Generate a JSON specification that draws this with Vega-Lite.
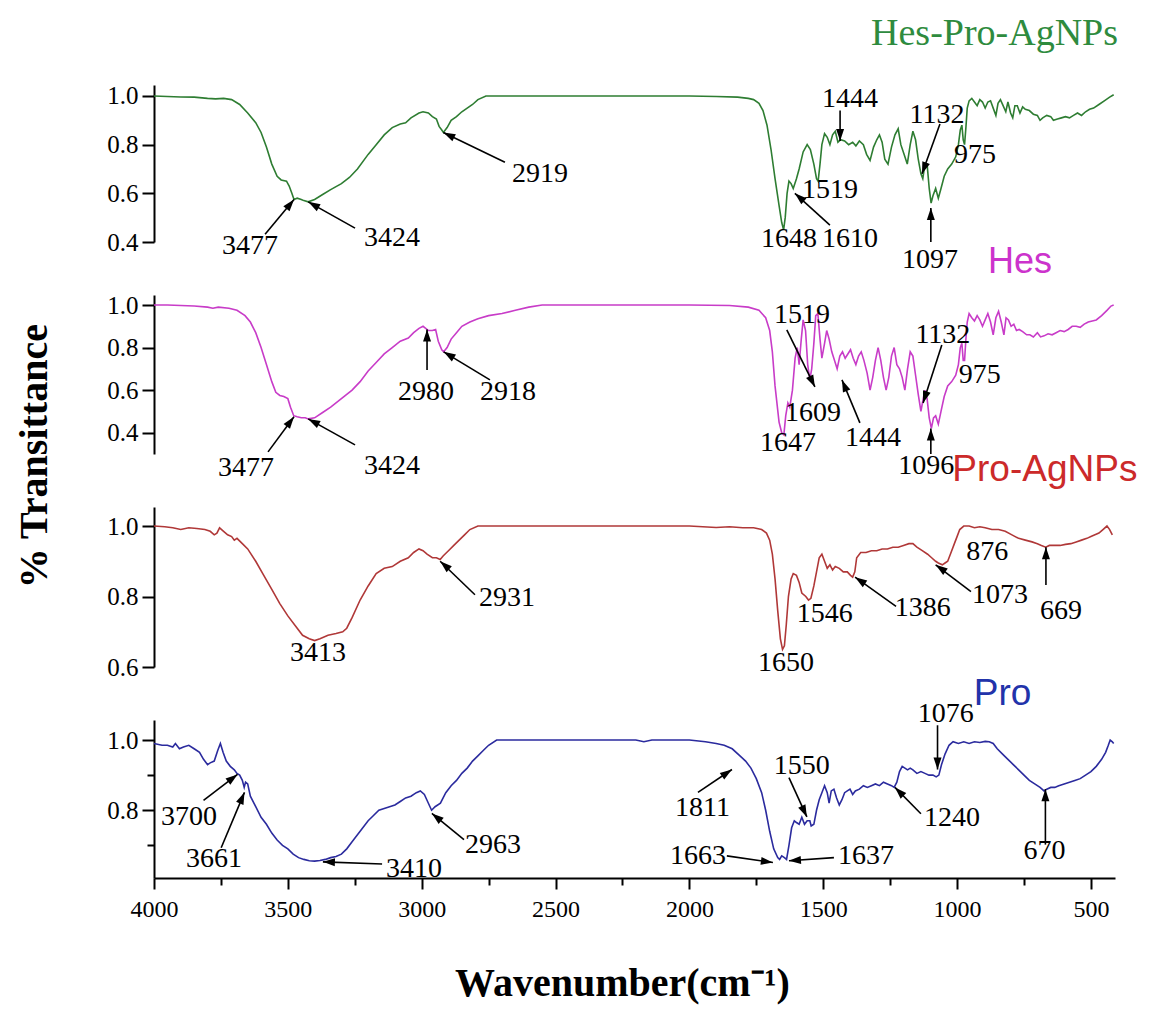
{
  "$schema": "https://vega.github.io/schema/vega-lite/v6.json",
  "padding": {"left": 15, "top": 14, "right": 5, "bottom": 5},
  "background": "white",
  "config": {
    "view": {"stroke": null},
    "axis": {"domainColor": "black", "domainWidth": 2, "tickColor": "black", "tickWidth": 2, "labelFont": "Liberation Serif", "labelColor": "black", "grid": false, "titleFont": "Liberation Serif", "titleColor": "black", "labelOverlap": false}
  },
  "datasets": {
    "s1": [
      {"w":4000,"t":1.0},{"w":3950,"t":0.998},{"w":3900,"t":0.996},{"w":3850,"t":0.995},{"w":3800,"t":0.99},{"w":3770,"t":0.988},{"w":3740,"t":0.99},{"w":3710,"t":0.985},{"w":3680,"t":0.965},{"w":3650,"t":0.93},{"w":3620,"t":0.89},{"w":3600,"t":0.85},{"w":3580,"t":0.79},{"w":3560,"t":0.72},{"w":3540,"t":0.67},{"w":3525,"t":0.655},{"w":3505,"t":0.65},{"w":3495,"t":0.63},{"w":3485,"t":0.6},{"w":3477,"t":0.575},{"w":3465,"t":0.58},{"w":3450,"t":0.575},{"w":3440,"t":0.57},{"w":3424,"t":0.565},{"w":3400,"t":0.575},{"w":3370,"t":0.595},{"w":3340,"t":0.615},{"w":3300,"t":0.64},{"w":3270,"t":0.665},{"w":3240,"t":0.7},{"w":3200,"t":0.76},{"w":3170,"t":0.8},{"w":3140,"t":0.84},{"w":3110,"t":0.87},{"w":3080,"t":0.885},{"w":3060,"t":0.89},{"w":3040,"t":0.91},{"w":3010,"t":0.93},{"w":2995,"t":0.935},{"w":2975,"t":0.93},{"w":2960,"t":0.915},{"w":2945,"t":0.905},{"w":2935,"t":0.875},{"w":2925,"t":0.86},{"w":2919,"t":0.85},{"w":2905,"t":0.87},{"w":2890,"t":0.9},{"w":2870,"t":0.915},{"w":2850,"t":0.935},{"w":2830,"t":0.95},{"w":2810,"t":0.965},{"w":2790,"t":0.985},{"w":2760,"t":1.0},{"w":2500,"t":1.0},{"w":2200,"t":1.0},{"w":2000,"t":1.0},{"w":1900,"t":0.998},{"w":1820,"t":0.995},{"w":1780,"t":0.99},{"w":1760,"t":0.985},{"w":1740,"t":0.97},{"w":1725,"t":0.94},{"w":1710,"t":0.88},{"w":1695,"t":0.78},{"w":1680,"t":0.66},{"w":1665,"t":0.55},{"w":1655,"t":0.48},{"w":1648,"t":0.45},{"w":1642,"t":0.5},{"w":1635,"t":0.6},{"w":1628,"t":0.65},{"w":1620,"t":0.64},{"w":1612,"t":0.62},{"w":1600,"t":0.66},{"w":1590,"t":0.7},{"w":1575,"t":0.77},{"w":1560,"t":0.8},{"w":1548,"t":0.78},{"w":1535,"t":0.72},{"w":1525,"t":0.66},{"w":1519,"t":0.65},{"w":1512,"t":0.72},{"w":1505,"t":0.8},{"w":1495,"t":0.845},{"w":1485,"t":0.83},{"w":1475,"t":0.8},{"w":1465,"t":0.84},{"w":1455,"t":0.855},{"w":1445,"t":0.81},{"w":1435,"t":0.82},{"w":1420,"t":0.815},{"w":1405,"t":0.8},{"w":1390,"t":0.81},{"w":1378,"t":0.795},{"w":1365,"t":0.815},{"w":1350,"t":0.8},{"w":1338,"t":0.76},{"w":1325,"t":0.735},{"w":1312,"t":0.79},{"w":1300,"t":0.82},{"w":1290,"t":0.84},{"w":1280,"t":0.81},{"w":1270,"t":0.74},{"w":1258,"t":0.72},{"w":1245,"t":0.79},{"w":1232,"t":0.84},{"w":1220,"t":0.865},{"w":1210,"t":0.8},{"w":1198,"t":0.76},{"w":1186,"t":0.72},{"w":1175,"t":0.8},{"w":1165,"t":0.855},{"w":1155,"t":0.82},{"w":1145,"t":0.74},{"w":1135,"t":0.68},{"w":1128,"t":0.66},{"w":1120,"t":0.72},{"w":1112,"t":0.72},{"w":1104,"t":0.62},{"w":1097,"t":0.56},{"w":1090,"t":0.59},{"w":1080,"t":0.62},{"w":1070,"t":0.58},{"w":1060,"t":0.62},{"w":1048,"t":0.67},{"w":1035,"t":0.7},{"w":1020,"t":0.72},{"w":1005,"t":0.75},{"w":995,"t":0.8},{"w":988,"t":0.86},{"w":982,"t":0.88},{"w":977,"t":0.82},{"w":972,"t":0.8},{"w":967,"t":0.87},{"w":962,"t":0.95},{"w":955,"t":0.98},{"w":945,"t":0.99},{"w":935,"t":0.975},{"w":925,"t":0.96},{"w":915,"t":0.985},{"w":905,"t":0.975},{"w":895,"t":0.95},{"w":885,"t":0.975},{"w":875,"t":0.98},{"w":865,"t":0.95},{"w":855,"t":0.92},{"w":847,"t":0.97},{"w":838,"t":0.985},{"w":828,"t":0.96},{"w":818,"t":0.935},{"w":810,"t":0.975},{"w":800,"t":0.93},{"w":792,"t":0.91},{"w":784,"t":0.96},{"w":775,"t":0.96},{"w":765,"t":0.93},{"w":755,"t":0.955},{"w":745,"t":0.945},{"w":730,"t":0.94},{"w":715,"t":0.925},{"w":700,"t":0.92},{"w":690,"t":0.9},{"w":680,"t":0.91},{"w":665,"t":0.92},{"w":650,"t":0.915},{"w":640,"t":0.9},{"w":625,"t":0.905},{"w":610,"t":0.91},{"w":595,"t":0.915},{"w":580,"t":0.91},{"w":565,"t":0.92},{"w":550,"t":0.93},{"w":535,"t":0.92},{"w":520,"t":0.935},{"w":505,"t":0.945},{"w":490,"t":0.95},{"w":470,"t":0.965},{"w":450,"t":0.98},{"w":430,"t":0.995},{"w":415,"t":1.005}
    ],
    "s2": [
      {"w":4000,"t":1.0},{"w":3950,"t":1.0},{"w":3900,"t":0.998},{"w":3850,"t":0.995},{"w":3800,"t":0.99},{"w":3780,"t":0.985},{"w":3760,"t":0.99},{"w":3720,"t":0.985},{"w":3690,"t":0.975},{"w":3660,"t":0.95},{"w":3640,"t":0.92},{"w":3620,"t":0.87},{"w":3600,"t":0.8},{"w":3580,"t":0.72},{"w":3560,"t":0.64},{"w":3545,"t":0.59},{"w":3530,"t":0.575},{"w":3515,"t":0.57},{"w":3500,"t":0.56},{"w":3490,"t":0.52},{"w":3478,"t":0.48},{"w":3465,"t":0.475},{"w":3450,"t":0.47},{"w":3435,"t":0.47},{"w":3424,"t":0.465},{"w":3400,"t":0.47},{"w":3370,"t":0.495},{"w":3340,"t":0.52},{"w":3300,"t":0.56},{"w":3260,"t":0.6},{"w":3230,"t":0.64},{"w":3200,"t":0.69},{"w":3170,"t":0.73},{"w":3140,"t":0.77},{"w":3110,"t":0.8},{"w":3080,"t":0.83},{"w":3050,"t":0.845},{"w":3030,"t":0.87},{"w":3010,"t":0.89},{"w":2995,"t":0.9},{"w":2985,"t":0.89},{"w":2975,"t":0.88},{"w":2960,"t":0.88},{"w":2948,"t":0.885},{"w":2938,"t":0.83},{"w":2925,"t":0.79},{"w":2918,"t":0.78},{"w":2905,"t":0.8},{"w":2890,"t":0.84},{"w":2870,"t":0.87},{"w":2850,"t":0.9},{"w":2820,"t":0.92},{"w":2790,"t":0.935},{"w":2750,"t":0.95},{"w":2700,"t":0.96},{"w":2650,"t":0.975},{"w":2600,"t":0.99},{"w":2550,"t":1.0},{"w":2000,"t":1.0},{"w":1850,"t":0.998},{"w":1780,"t":0.99},{"w":1740,"t":0.975},{"w":1715,"t":0.94},{"w":1700,"t":0.88},{"w":1690,"t":0.78},{"w":1680,"t":0.62},{"w":1665,"t":0.45},{"w":1655,"t":0.4},{"w":1647,"t":0.39},{"w":1640,"t":0.48},{"w":1632,"t":0.54},{"w":1625,"t":0.52},{"w":1615,"t":0.6},{"w":1605,"t":0.75},{"w":1597,"t":0.8},{"w":1590,"t":0.72},{"w":1582,"t":0.84},{"w":1575,"t":0.93},{"w":1566,"t":0.88},{"w":1558,"t":0.72},{"w":1550,"t":0.65},{"w":1543,"t":0.7},{"w":1535,"t":0.82},{"w":1528,"t":0.95},{"w":1520,"t":0.96},{"w":1512,"t":0.84},{"w":1505,"t":0.75},{"w":1495,"t":0.82},{"w":1487,"t":0.88},{"w":1478,"t":0.84},{"w":1468,"t":0.78},{"w":1458,"t":0.74},{"w":1448,"t":0.7},{"w":1438,"t":0.76},{"w":1428,"t":0.78},{"w":1418,"t":0.75},{"w":1408,"t":0.77},{"w":1398,"t":0.79},{"w":1388,"t":0.75},{"w":1378,"t":0.72},{"w":1368,"t":0.76},{"w":1358,"t":0.78},{"w":1348,"t":0.74},{"w":1336,"t":0.68},{"w":1325,"t":0.6},{"w":1315,"t":0.66},{"w":1305,"t":0.74},{"w":1295,"t":0.8},{"w":1285,"t":0.74},{"w":1275,"t":0.66},{"w":1265,"t":0.6},{"w":1255,"t":0.66},{"w":1245,"t":0.76},{"w":1235,"t":0.8},{"w":1225,"t":0.72},{"w":1215,"t":0.7},{"w":1205,"t":0.66},{"w":1195,"t":0.6},{"w":1185,"t":0.7},{"w":1175,"t":0.78},{"w":1165,"t":0.76},{"w":1155,"t":0.67},{"w":1145,"t":0.58},{"w":1135,"t":0.5},{"w":1128,"t":0.55},{"w":1120,"t":0.6},{"w":1112,"t":0.56},{"w":1104,"t":0.47},{"w":1096,"t":0.42},{"w":1088,"t":0.47},{"w":1080,"t":0.48},{"w":1070,"t":0.44},{"w":1060,"t":0.5},{"w":1048,"t":0.57},{"w":1035,"t":0.62},{"w":1020,"t":0.64},{"w":1005,"t":0.67},{"w":995,"t":0.72},{"w":988,"t":0.8},{"w":982,"t":0.82},{"w":977,"t":0.74},{"w":972,"t":0.74},{"w":967,"t":0.84},{"w":962,"t":0.92},{"w":955,"t":0.96},{"w":945,"t":0.94},{"w":935,"t":0.925},{"w":925,"t":0.95},{"w":915,"t":0.93},{"w":905,"t":0.9},{"w":895,"t":0.93},{"w":885,"t":0.96},{"w":875,"t":0.92},{"w":865,"t":0.86},{"w":855,"t":0.94},{"w":845,"t":0.97},{"w":835,"t":0.92},{"w":825,"t":0.86},{"w":817,"t":0.94},{"w":808,"t":0.93},{"w":798,"t":0.9},{"w":788,"t":0.91},{"w":778,"t":0.88},{"w":768,"t":0.885},{"w":755,"t":0.875},{"w":740,"t":0.86},{"w":728,"t":0.86},{"w":715,"t":0.85},{"w":700,"t":0.87},{"w":688,"t":0.85},{"w":675,"t":0.855},{"w":660,"t":0.865},{"w":645,"t":0.86},{"w":630,"t":0.87},{"w":615,"t":0.88},{"w":600,"t":0.875},{"w":585,"t":0.885},{"w":570,"t":0.9},{"w":555,"t":0.9},{"w":540,"t":0.895},{"w":525,"t":0.91},{"w":510,"t":0.92},{"w":495,"t":0.925},{"w":480,"t":0.93},{"w":460,"t":0.95},{"w":440,"t":0.975},{"w":425,"t":0.995},{"w":415,"t":1.0}
    ],
    "s3": [
      {"w":4000,"t":1.0},{"w":3960,"t":0.998},{"w":3930,"t":0.995},{"w":3900,"t":0.99},{"w":3870,"t":0.995},{"w":3840,"t":0.993},{"w":3810,"t":0.99},{"w":3790,"t":0.985},{"w":3775,"t":0.975},{"w":3765,"t":0.98},{"w":3755,"t":0.995},{"w":3740,"t":0.985},{"w":3725,"t":0.975},{"w":3710,"t":0.97},{"w":3700,"t":0.96},{"w":3690,"t":0.965},{"w":3670,"t":0.95},{"w":3650,"t":0.935},{"w":3620,"t":0.9},{"w":3590,"t":0.86},{"w":3560,"t":0.82},{"w":3530,"t":0.78},{"w":3500,"t":0.745},{"w":3470,"t":0.715},{"w":3445,"t":0.69},{"w":3420,"t":0.68},{"w":3400,"t":0.675},{"w":3380,"t":0.68},{"w":3350,"t":0.69},{"w":3320,"t":0.695},{"w":3295,"t":0.7},{"w":3280,"t":0.71},{"w":3260,"t":0.74},{"w":3230,"t":0.79},{"w":3200,"t":0.83},{"w":3170,"t":0.865},{"w":3140,"t":0.88},{"w":3110,"t":0.885},{"w":3080,"t":0.9},{"w":3050,"t":0.91},{"w":3030,"t":0.925},{"w":3010,"t":0.935},{"w":2995,"t":0.93},{"w":2980,"t":0.92},{"w":2960,"t":0.91},{"w":2945,"t":0.91},{"w":2931,"t":0.905},{"w":2920,"t":0.915},{"w":2900,"t":0.93},{"w":2880,"t":0.945},{"w":2860,"t":0.96},{"w":2840,"t":0.975},{"w":2820,"t":0.99},{"w":2790,"t":1.0},{"w":2000,"t":1.0},{"w":1950,"t":0.998},{"w":1900,"t":0.996},{"w":1850,"t":0.998},{"w":1800,"t":0.995},{"w":1760,"t":0.995},{"w":1730,"t":0.99},{"w":1712,"t":0.98},{"w":1700,"t":0.96},{"w":1690,"t":0.92},{"w":1680,"t":0.85},{"w":1670,"t":0.76},{"w":1660,"t":0.68},{"w":1652,"t":0.65},{"w":1645,"t":0.66},{"w":1638,"t":0.72},{"w":1630,"t":0.8},{"w":1620,"t":0.85},{"w":1612,"t":0.865},{"w":1600,"t":0.86},{"w":1590,"t":0.84},{"w":1580,"t":0.81},{"w":1565,"t":0.8},{"w":1555,"t":0.79},{"w":1546,"t":0.795},{"w":1535,"t":0.83},{"w":1525,"t":0.87},{"w":1515,"t":0.91},{"w":1505,"t":0.92},{"w":1495,"t":0.9},{"w":1485,"t":0.88},{"w":1475,"t":0.89},{"w":1465,"t":0.875},{"w":1455,"t":0.885},{"w":1440,"t":0.88},{"w":1425,"t":0.87},{"w":1410,"t":0.87},{"w":1398,"t":0.86},{"w":1390,"t":0.855},{"w":1382,"t":0.87},{"w":1375,"t":0.91},{"w":1360,"t":0.925},{"w":1340,"t":0.925},{"w":1320,"t":0.93},{"w":1300,"t":0.93},{"w":1280,"t":0.935},{"w":1260,"t":0.935},{"w":1240,"t":0.94},{"w":1220,"t":0.94},{"w":1200,"t":0.945},{"w":1180,"t":0.95},{"w":1165,"t":0.95},{"w":1150,"t":0.94},{"w":1130,"t":0.93},{"w":1110,"t":0.92},{"w":1095,"t":0.91},{"w":1080,"t":0.9},{"w":1070,"t":0.895},{"w":1055,"t":0.89},{"w":1045,"t":0.895},{"w":1035,"t":0.9},{"w":1025,"t":0.92},{"w":1010,"t":0.95},{"w":1000,"t":0.97},{"w":990,"t":0.99},{"w":975,"t":1.0},{"w":955,"t":1.0},{"w":935,"t":0.995},{"w":915,"t":0.998},{"w":895,"t":0.995},{"w":870,"t":0.99},{"w":845,"t":0.99},{"w":820,"t":0.985},{"w":795,"t":0.975},{"w":770,"t":0.965},{"w":745,"t":0.96},{"w":720,"t":0.955},{"w":700,"t":0.95},{"w":685,"t":0.945},{"w":669,"t":0.94},{"w":655,"t":0.945},{"w":635,"t":0.945},{"w":615,"t":0.945},{"w":595,"t":0.948},{"w":575,"t":0.95},{"w":555,"t":0.955},{"w":535,"t":0.96},{"w":515,"t":0.965},{"w":500,"t":0.97},{"w":485,"t":0.975},{"w":470,"t":0.98},{"w":455,"t":0.99},{"w":440,"t":1.0},{"w":430,"t":0.99},{"w":420,"t":0.975}
    ],
    "s4": [
      {"w":4000,"t":0.99},{"w":3970,"t":0.985},{"w":3950,"t":0.985},{"w":3930,"t":0.98},{"w":3920,"t":0.99},{"w":3905,"t":0.975},{"w":3890,"t":0.98},{"w":3870,"t":0.985},{"w":3850,"t":0.975},{"w":3830,"t":0.965},{"w":3815,"t":0.945},{"w":3800,"t":0.93},{"w":3790,"t":0.935},{"w":3775,"t":0.94},{"w":3762,"t":0.97},{"w":3752,"t":0.99},{"w":3742,"t":0.965},{"w":3730,"t":0.94},{"w":3715,"t":0.925},{"w":3700,"t":0.915},{"w":3690,"t":0.905},{"w":3680,"t":0.9},{"w":3670,"t":0.885},{"w":3663,"t":0.865},{"w":3658,"t":0.88},{"w":3650,"t":0.875},{"w":3640,"t":0.84},{"w":3620,"t":0.81},{"w":3600,"t":0.78},{"w":3580,"t":0.76},{"w":3560,"t":0.735},{"w":3540,"t":0.715},{"w":3520,"t":0.7},{"w":3500,"t":0.69},{"w":3480,"t":0.675},{"w":3460,"t":0.665},{"w":3440,"t":0.66},{"w":3420,"t":0.656},{"w":3400,"t":0.655},{"w":3380,"t":0.657},{"w":3360,"t":0.66},{"w":3340,"t":0.665},{"w":3320,"t":0.668},{"w":3300,"t":0.675},{"w":3280,"t":0.69},{"w":3260,"t":0.71},{"w":3240,"t":0.73},{"w":3220,"t":0.75},{"w":3200,"t":0.77},{"w":3180,"t":0.785},{"w":3160,"t":0.8},{"w":3140,"t":0.805},{"w":3120,"t":0.81},{"w":3100,"t":0.815},{"w":3080,"t":0.825},{"w":3060,"t":0.835},{"w":3040,"t":0.84},{"w":3020,"t":0.85},{"w":3005,"t":0.855},{"w":2990,"t":0.845},{"w":2975,"t":0.82},{"w":2963,"t":0.8},{"w":2950,"t":0.81},{"w":2930,"t":0.82},{"w":2910,"t":0.85},{"w":2890,"t":0.87},{"w":2870,"t":0.885},{"w":2850,"t":0.905},{"w":2830,"t":0.92},{"w":2810,"t":0.94},{"w":2790,"t":0.955},{"w":2770,"t":0.97},{"w":2750,"t":0.985},{"w":2720,"t":1.0},{"w":2200,"t":1.0},{"w":2170,"t":0.995},{"w":2140,"t":1.0},{"w":2000,"t":1.0},{"w":1940,"t":0.995},{"w":1900,"t":0.99},{"w":1870,"t":0.985},{"w":1840,"t":0.975},{"w":1811,"t":0.955},{"w":1790,"t":0.94},{"w":1770,"t":0.92},{"w":1750,"t":0.89},{"w":1730,"t":0.85},{"w":1715,"t":0.8},{"w":1700,"t":0.74},{"w":1685,"t":0.69},{"w":1670,"t":0.665},{"w":1663,"t":0.66},{"w":1655,"t":0.67},{"w":1645,"t":0.665},{"w":1637,"t":0.66},{"w":1628,"t":0.7},{"w":1618,"t":0.75},{"w":1608,"t":0.77},{"w":1600,"t":0.765},{"w":1590,"t":0.76},{"w":1580,"t":0.78},{"w":1570,"t":0.76},{"w":1560,"t":0.77},{"w":1550,"t":0.77},{"w":1545,"t":0.755},{"w":1535,"t":0.76},{"w":1525,"t":0.8},{"w":1515,"t":0.83},{"w":1505,"t":0.85},{"w":1495,"t":0.87},{"w":1485,"t":0.85},{"w":1478,"t":0.82},{"w":1470,"t":0.855},{"w":1460,"t":0.86},{"w":1450,"t":0.835},{"w":1440,"t":0.815},{"w":1430,"t":0.83},{"w":1420,"t":0.85},{"w":1410,"t":0.855},{"w":1400,"t":0.86},{"w":1390,"t":0.845},{"w":1380,"t":0.855},{"w":1365,"t":0.86},{"w":1350,"t":0.87},{"w":1335,"t":0.865},{"w":1320,"t":0.87},{"w":1305,"t":0.875},{"w":1290,"t":0.87},{"w":1275,"t":0.88},{"w":1260,"t":0.875},{"w":1245,"t":0.87},{"w":1235,"t":0.865},{"w":1225,"t":0.88},{"w":1215,"t":0.91},{"w":1205,"t":0.925},{"w":1195,"t":0.92},{"w":1185,"t":0.915},{"w":1175,"t":0.92},{"w":1165,"t":0.915},{"w":1150,"t":0.905},{"w":1135,"t":0.91},{"w":1120,"t":0.905},{"w":1105,"t":0.9},{"w":1090,"t":0.9},{"w":1078,"t":0.895},{"w":1068,"t":0.9},{"w":1058,"t":0.93},{"w":1045,"t":0.96},{"w":1030,"t":0.985},{"w":1015,"t":0.995},{"w":995,"t":0.99},{"w":975,"t":0.995},{"w":955,"t":0.99},{"w":935,"t":0.995},{"w":915,"t":0.993},{"w":895,"t":0.996},{"w":880,"t":0.995},{"w":865,"t":0.99},{"w":850,"t":0.975},{"w":830,"t":0.96},{"w":810,"t":0.945},{"w":790,"t":0.93},{"w":770,"t":0.915},{"w":750,"t":0.9},{"w":730,"t":0.885},{"w":710,"t":0.875},{"w":690,"t":0.865},{"w":675,"t":0.855},{"w":665,"t":0.86},{"w":650,"t":0.865},{"w":635,"t":0.865},{"w":620,"t":0.87},{"w":600,"t":0.875},{"w":580,"t":0.88},{"w":560,"t":0.885},{"w":540,"t":0.89},{"w":520,"t":0.9},{"w":500,"t":0.91},{"w":480,"t":0.925},{"w":460,"t":0.945},{"w":445,"t":0.965},{"w":435,"t":0.985},{"w":428,"t":1.0},{"w":420,"t":0.995},{"w":415,"t":0.99}
    ],
    "ann": [
      {"p":1,"label":"3477","lx":3641,"ly":0.383,"tx":3477,"ty":0.575,"fx":3585,"fy":0.432,"ang":39},
      {"p":1,"label":"3424","lx":3111,"ly":0.416,"tx":3424,"ty":0.565,"fx":3249,"fy":0.457,"ang":299},
      {"p":1,"label":"2919","lx":2558,"ly":0.679,"tx":2919,"ty":0.85,"fx":2689,"fy":0.728,"ang":296},
      {"p":1,"label":"1444","lx":1400,"ly":0.988,"tx":1437,"ty":0.815,"fx":1437,"fy":0.94,"ang":180},
      {"p":1,"label":"1132","lx":1075,"ly":0.922,"tx":1131,"ty":0.68,"fx":1064,"fy":0.885,"ang":200},
      {"p":1,"label":"975","lx":933,"ly":0.757},
      {"p":1,"label":"1519","lx":1475,"ly":0.613},
      {"p":1,"label":"1610","lx":1400,"ly":0.412,"tx":1606,"ty":0.6,"fx":1475,"fy":0.469,"ang":311},
      {"p":1,"label":"1648","lx":1628,"ly":0.412},
      {"p":1,"label":"1097","lx":1101,"ly":0.325,"tx":1098,"ty":0.54,"fx":1098,"fy":0.4,"ang":0},
      {"p":2,"label":"3477","lx":3656,"ly":0.235,"tx":3477,"ty":0.475,"fx":3574,"fy":0.31,"ang":37},
      {"p":2,"label":"3424","lx":3111,"ly":0.244,"tx":3424,"ty":0.465,"fx":3249,"fy":0.343,"ang":298},
      {"p":2,"label":"2980","lx":2984,"ly":0.592,"tx":2980,"ty":0.885,"fx":2980,"fy":0.695,"ang":0},
      {"p":2,"label":"2918","lx":2678,"ly":0.592,"tx":2918,"ty":0.78,"fx":2745,"fy":0.648,"ang":301},
      {"p":2,"label":"1519","lx":1579,"ly":0.953,"tx":1531,"ty":0.615,"fx":1636,"fy":0.883,"ang":154},
      {"p":2,"label":"1609","lx":1538,"ly":0.493},
      {"p":2,"label":"1444","lx":1314,"ly":0.376,"tx":1430,"ty":0.648,"fx":1363,"fy":0.446,"ang":337},
      {"p":2,"label":"1647","lx":1632,"ly":0.352},
      {"p":2,"label":"1132","lx":1053,"ly":0.859,"tx":1127,"ty":0.54,"fx":1057,"fy":0.812,"ang":198},
      {"p":2,"label":"975","lx":915,"ly":0.671},
      {"p":2,"label":"1096","lx":1115,"ly":0.244,"tx":1098,"ty":0.42,"fx":1098,"fy":0.3,"ang":0},
      {"p":3,"label":"3413","lx":3387,"ly":0.64},
      {"p":3,"label":"2931","lx":2681,"ly":0.795,"tx":2931,"ty":0.9,"fx":2801,"fy":0.805,"ang":311},
      {"p":3,"label":"1650","lx":1639,"ly":0.61},
      {"p":3,"label":"1546","lx":1494,"ly":0.749},
      {"p":3,"label":"1386","lx":1128,"ly":0.767,"tx":1381,"ty":0.855,"fx":1228,"fy":0.772,"ang":304},
      {"p":3,"label":"1073","lx":840,"ly":0.805,"tx":1080,"ty":0.89,"fx":948,"fy":0.814,"ang":305},
      {"p":3,"label":"876","lx":887,"ly":0.926},
      {"p":3,"label":"669","lx":612,"ly":0.758,"tx":668,"ty":0.94,"fx":668,"fy":0.833,"ang":0},
      {"p":4,"label":"3700","lx":3869,"ly":0.781,"tx":3688,"ty":0.902,"fx":3815,"fy":0.828,"ang":53},
      {"p":4,"label":"3661","lx":3776,"ly":0.66,"tx":3662,"ty":0.851,"fx":3749,"fy":0.693,"ang":23},
      {"p":4,"label":"3410","lx":3029,"ly":0.633,"tx":3369,"ty":0.653,"fx":3148,"fy":0.647,"ang":272},
      {"p":4,"label":"2963","lx":2734,"ly":0.702,"tx":2962,"ty":0.791,"fx":2842,"fy":0.716,"ang":309},
      {"p":4,"label":"1811","lx":1951,"ly":0.805,"tx":1841,"ty":0.916,"fx":1968,"fy":0.851,"ang":56},
      {"p":4,"label":"1550","lx":1580,"ly":0.926,"tx":1561,"ty":0.781,"fx":1628,"fy":0.893,"ang":155},
      {"p":4,"label":"1663","lx":1968,"ly":0.67,"tx":1688,"ty":0.651,"fx":1860,"fy":0.67,"ang":98},
      {"p":4,"label":"1637","lx":1340,"ly":0.67,"tx":1628,"ty":0.656,"fx":1460,"fy":0.665,"ang":266},
      {"p":4,"label":"1240","lx":1019,"ly":0.777,"tx":1232,"ty":0.865,"fx":1135,"fy":0.79,"ang":315},
      {"p":4,"label":"1076","lx":1042,"ly":1.074,"tx":1073,"ty":0.916,"fx":1073,"fy":1.042,"ang":180},
      {"p":4,"label":"670","lx":673,"ly":0.684,"tx":670,"ty":0.86,"fx":670,"fy":0.702,"ang":0}
    ]
  },
  "vconcat": [
    {
      "width": 961, "height": 157,
      "layer": [
        {"data": {"name": "s1"}, "mark": {"type": "line", "color": "#2e7d32", "strokeWidth": 1.6},
         "encoding": {
           "x": {"field": "w", "type": "quantitative", "scale": {"domain": [410, 4000], "reverse": true, "nice": false, "zero": false}, "axis": null},
           "y": {"field": "t", "type": "quantitative", "scale": {"domain": [0.4, 1.045], "nice": false, "zero": false},
                 "axis": {"title": null, "labelOverlap": false, "values": [0.4, 0.5, 0.6, 0.7, 0.8, 0.9, 1.0], "labelExpr": "round(datum.value*10)%2==0 ? format(datum.value,'.1f') : ''", "tickSize": {"condition": {"test": "round(datum.value*10)%2==0", "value": 12}, "value": 7}, "labelFontSize": 25, "labelPadding": 4}}
         }},
        {"data": {"name": "ann"}, "transform": [{"filter": "datum.p==1 && isValid(datum.tx)"}], "mark": {"type": "rule", "color": "black", "strokeWidth": 1.6},
         "encoding": {"x": {"field": "fx", "type": "quantitative", "axis": null}, "y": {"field": "fy", "type": "quantitative"}, "x2": {"field": "tx"}, "y2": {"field": "ty"}}},
        {"data": {"name": "ann"}, "transform": [{"filter": "datum.p==1 && isValid(datum.tx)"}], "mark": {"type": "point", "shape": "M0,0L0.8,2.4L-0.8,2.4Z", "filled": true, "color": "black", "size": 100, "opacity": 1},
         "encoding": {"x": {"field": "tx", "type": "quantitative", "axis": null}, "y": {"field": "ty", "type": "quantitative"}, "angle": {"field": "ang", "type": "quantitative", "scale": null}}},
        {"data": {"name": "ann"}, "transform": [{"filter": "datum.p==1"}], "mark": {"type": "text", "font": "Liberation Serif", "fontSize": 28, "color": "black"},
         "encoding": {"x": {"field": "lx", "type": "quantitative", "axis": null}, "y": {"field": "ly", "type": "quantitative"}, "text": {"field": "label"}}},
        {"data": {"values": [{"w": 860, "t": 1.255, "name": "Hes-Pro-AgNPs"}]}, "mark": {"type": "text", "font": "Liberation Serif", "fontSize": 38, "color": "#2e8b3e"},
         "encoding": {"x": {"field": "w", "type": "quantitative", "axis": null}, "y": {"field": "t", "type": "quantitative"}, "text": {"field": "name"}}}
      ]
    },
    {
      "width": 961, "height": 159,
      "layer": [
        {"data": {"name": "s2"}, "mark": {"type": "line", "color": "#c83cc8", "strokeWidth": 1.6},
         "encoding": {
           "x": {"field": "w", "type": "quantitative", "scale": {"domain": [410, 4000], "reverse": true, "nice": false, "zero": false}, "axis": null},
           "y": {"field": "t", "type": "quantitative", "scale": {"domain": [0.3, 1.047], "nice": false, "zero": false},
                 "axis": {"title": null, "labelOverlap": false, "values": [0.4, 0.5, 0.6, 0.7, 0.8, 0.9, 1.0], "labelExpr": "round(datum.value*10)%2==0 ? format(datum.value,'.1f') : ''", "tickSize": {"condition": {"test": "round(datum.value*10)%2==0", "value": 12}, "value": 7}, "labelFontSize": 25, "labelPadding": 4}}
         }},
        {"data": {"name": "ann"}, "transform": [{"filter": "datum.p==2 && isValid(datum.tx)"}], "mark": {"type": "rule", "color": "black", "strokeWidth": 1.6},
         "encoding": {"x": {"field": "fx", "type": "quantitative", "axis": null}, "y": {"field": "fy", "type": "quantitative"}, "x2": {"field": "tx"}, "y2": {"field": "ty"}}},
        {"data": {"name": "ann"}, "transform": [{"filter": "datum.p==2 && isValid(datum.tx)"}], "mark": {"type": "point", "shape": "M0,0L0.8,2.4L-0.8,2.4Z", "filled": true, "color": "black", "size": 100, "opacity": 1},
         "encoding": {"x": {"field": "tx", "type": "quantitative", "axis": null}, "y": {"field": "ty", "type": "quantitative"}, "angle": {"field": "ang", "type": "quantitative", "scale": null}}},
        {"data": {"name": "ann"}, "transform": [{"filter": "datum.p==2"}], "mark": {"type": "text", "font": "Liberation Serif", "fontSize": 28, "color": "black"},
         "encoding": {"x": {"field": "lx", "type": "quantitative", "axis": null}, "y": {"field": "ly", "type": "quantitative"}, "text": {"field": "label"}}},
        {"data": {"values": [{"w": 765, "t": 1.2, "name": "Hes"}]}, "mark": {"type": "text", "font": "Liberation Sans", "fontSize": 36, "color": "#cc33cc"},
         "encoding": {"x": {"field": "w", "type": "quantitative", "axis": null}, "y": {"field": "t", "type": "quantitative"}, "text": {"field": "name"}}},
        {"data": {"values": [{"w": 4444, "t": 0.29, "name": "% Transittance"}]}, "mark": {"type": "text", "font": "Liberation Serif", "fontSize": 40, "fontWeight": "bold", "angle": 270, "color": "black", "align": "center", "baseline": "middle"},
         "encoding": {"x": {"field": "w", "type": "quantitative", "axis": null}, "y": {"field": "t", "type": "quantitative"}, "text": {"field": "name"}}}
      ]
    },
    {
      "width": 961, "height": 160,
      "layer": [
        {"data": {"name": "s3"}, "mark": {"type": "line", "color": "#b03838", "strokeWidth": 1.6},
         "encoding": {
           "x": {"field": "w", "type": "quantitative", "scale": {"domain": [410, 4000], "reverse": true, "nice": false, "zero": false}, "axis": null},
           "y": {"field": "t", "type": "quantitative", "scale": {"domain": [0.6, 1.054], "nice": false, "zero": false},
                 "axis": {"title": null, "labelOverlap": false, "values": [0.6, 0.7, 0.8, 0.9, 1.0], "labelExpr": "round(datum.value*10)%2==0 ? format(datum.value,'.1f') : ''", "tickSize": {"condition": {"test": "round(datum.value*10)%2==0", "value": 12}, "value": 7}, "labelFontSize": 25, "labelPadding": 4}}
         }},
        {"data": {"name": "ann"}, "transform": [{"filter": "datum.p==3 && isValid(datum.tx)"}], "mark": {"type": "rule", "color": "black", "strokeWidth": 1.6},
         "encoding": {"x": {"field": "fx", "type": "quantitative", "axis": null}, "y": {"field": "fy", "type": "quantitative"}, "x2": {"field": "tx"}, "y2": {"field": "ty"}}},
        {"data": {"name": "ann"}, "transform": [{"filter": "datum.p==3 && isValid(datum.tx)"}], "mark": {"type": "point", "shape": "M0,0L0.8,2.4L-0.8,2.4Z", "filled": true, "color": "black", "size": 100, "opacity": 1},
         "encoding": {"x": {"field": "tx", "type": "quantitative", "axis": null}, "y": {"field": "ty", "type": "quantitative"}, "angle": {"field": "ang", "type": "quantitative", "scale": null}}},
        {"data": {"name": "ann"}, "transform": [{"filter": "datum.p==3"}], "mark": {"type": "text", "font": "Liberation Serif", "fontSize": 28, "color": "black"},
         "encoding": {"x": {"field": "lx", "type": "quantitative", "axis": null}, "y": {"field": "ly", "type": "quantitative"}, "text": {"field": "label"}}},
        {"data": {"values": [{"w": 672, "t": 1.159, "name": "Pro-AgNPs"}]}, "mark": {"type": "text", "font": "Liberation Sans", "fontSize": 37, "color": "#cc2a2a"},
         "encoding": {"x": {"field": "w", "type": "quantitative", "axis": null}, "y": {"field": "t", "type": "quantitative"}, "text": {"field": "name"}}}
      ]
    },
    {
      "width": 961, "height": 158,
      "layer": [
        {"data": {"name": "s4"}, "mark": {"type": "line", "color": "#2b2b9e", "strokeWidth": 1.6},
         "encoding": {
           "x": {"field": "w", "type": "quantitative", "scale": {"domain": [410, 4000], "reverse": true, "nice": false, "zero": false},
                 "axis": {"title": "Wavenumber(cm\u207b\u00b9)", "titleFontSize": 40, "titleFontWeight": "bold", "titlePadding": 42, "titleX": 468,
                          "values": [500, 750, 1000, 1250, 1500, 1750, 2000, 2250, 2500, 2750, 3000, 3250, 3500, 3750, 4000], "labelExpr": "datum.value % 500 == 0 ? format(datum.value,'d') : ''", "tickSize": {"condition": {"test": "datum.value % 500 == 0", "value": 11}, "value": 7}, "labelFontSize": 24, "labelPadding": 8, "labelFlush": false, "labelOverlap": false}},
           "y": {"field": "t", "type": "quantitative", "scale": {"domain": [0.607, 1.057], "nice": false, "zero": false},
                 "axis": {"title": null, "labelOverlap": false, "values": [0.7, 0.8, 0.9, 1.0], "labelExpr": "round(datum.value*10)%2==0 ? format(datum.value,'.1f') : ''", "tickSize": {"condition": {"test": "round(datum.value*10)%2==0", "value": 12}, "value": 7}, "labelFontSize": 25, "labelPadding": 4}}
         }},
        {"data": {"name": "ann"}, "transform": [{"filter": "datum.p==4 && isValid(datum.tx)"}], "mark": {"type": "rule", "color": "black", "strokeWidth": 1.6},
         "encoding": {"x": {"field": "fx", "type": "quantitative"}, "y": {"field": "fy", "type": "quantitative"}, "x2": {"field": "tx"}, "y2": {"field": "ty"}}},
        {"data": {"name": "ann"}, "transform": [{"filter": "datum.p==4 && isValid(datum.tx)"}], "mark": {"type": "point", "shape": "M0,0L0.8,2.4L-0.8,2.4Z", "filled": true, "color": "black", "size": 100, "opacity": 1},
         "encoding": {"x": {"field": "tx", "type": "quantitative"}, "y": {"field": "ty", "type": "quantitative"}, "angle": {"field": "ang", "type": "quantitative", "scale": null}}},
        {"data": {"name": "ann"}, "transform": [{"filter": "datum.p==4"}], "mark": {"type": "text", "font": "Liberation Serif", "fontSize": 28, "color": "black"},
         "encoding": {"x": {"field": "lx", "type": "quantitative"}, "y": {"field": "ly", "type": "quantitative"}, "text": {"field": "label"}}},
        {"data": {"values": [{"w": 830, "t": 1.13, "name": "Pro"}]}, "mark": {"type": "text", "font": "Liberation Sans", "fontSize": 37, "color": "#2233aa"},
         "encoding": {"x": {"field": "w", "type": "quantitative"}, "y": {"field": "t", "type": "quantitative"}, "text": {"field": "name"}}}
      ]
    }
  ],
  "spacing": 53,
  "bounds": "flush"
}
